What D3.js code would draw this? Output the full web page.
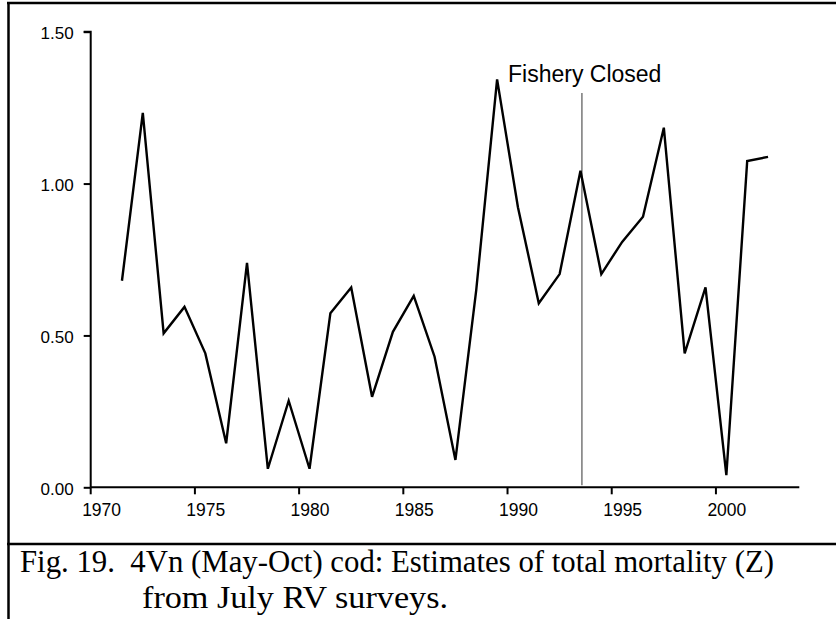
<!DOCTYPE html>
<html>
<head>
<meta charset="utf-8">
<script src="https://cdn.jsdelivr.net/npm/d3@7"></script>
<style>
  html, body { margin: 0; padding: 0; background: #fff; }
  svg { display: block; }
</style>
</head>
<body>
<svg id="chart" width="836" height="619"></svg>
<script>
// ---- data ----
const categories = d3.range(1970, 2004);            // category axis 1970..2003
const years  = [1971,1972,1973,1974,1975,1976,1977,1978,1979,1980,1981,1982,1983,1984,1985,1986,
                1987,1988,1989,1990,1991,1992,1993,1994,1995,1996,1997,1998,1999,2000,2001,2002];
const zValues = [0.680,1.233,0.507,0.594,0.441,0.145,0.739,0.061,0.285,0.061,0.573,0.658,0.298,0.512,0.630,0.430,
                 0.090,0.650,1.343,0.922,0.606,0.702,1.042,0.702,0.808,0.891,1.184,0.441,0.658,0.040,1.074,1.088];
const xTickLabels = [1970,1975,1980,1985,1990,1995,2000];
const yTicks = [0, 0.5, 1.0, 1.5];
const closureYear = 1993.57;
const closureLabel = "Fishery Closed";
const captionLines = ["Fig. 19.\u00a0\u00a04Vn (May-Oct) cod: Estimates of total mortality (Z)",
                      "from July RV surveys."];

// ---- layout ----
const svg = d3.select("#chart");
const pLeft = 90.7, pRight = 799.3, pTop = 31.7, pBottom = 487.3;

const x = d3.scaleBand().domain(categories).range([pLeft, pRight]).padding(0);
const xLin = d3.scaleLinear().domain([1970, 2004]).range([pLeft, pRight]);
const y = d3.scaleLinear().domain([0, 1.5]).range([pBottom, pTop]);

// frame
const frame = svg.append("g").attr("stroke", "#000").attr("stroke-width", 2.5).attr("fill", "none");
frame.append("line").attr("x1", 8.5).attr("x2", 8.5).attr("y1", 2).attr("y2", 619);
frame.append("line").attr("x1", 7).attr("x2", 836).attr("y1", 3).attr("y2", 3);
frame.append("line").attr("x1", 7).attr("x2", 836).attr("y1", 544).attr("y2", 544);

// closure line
svg.append("line")
  .attr("x1", xLin(closureYear)).attr("x2", xLin(closureYear))
  .attr("y1", 93).attr("y2", pBottom - 2)
  .attr("stroke", "#555").attr("stroke-width", 1.2);
svg.append("text")
  .attr("x", 508).attr("y", 81.5)
  .attr("font-family", "Liberation Sans, Arial, sans-serif")
  .attr("font-size", 23)
  .attr("fill", "#000")
  .text(closureLabel);

// y axis
const yAxis = d3.axisLeft(y).tickValues(yTicks).tickFormat(d3.format(".2f")).tickSize(7).tickPadding(10);
const gy = svg.append("g").attr("transform", `translate(${pLeft},0)`).call(yAxis);
gy.select(".domain").attr("stroke-width", 2).attr("d", `M-7,${pTop}H0V${pBottom}`);
gy.selectAll(".tick line").attr("stroke-width", 2);
gy.selectAll(".tick text")
  .attr("font-family", "Liberation Sans, Arial, sans-serif")
  .attr("font-size", 17).attr("fill", "#000").attr("dy", "0.42em");

// x axis: ticks at category boundaries, labels centred in category
const gx = svg.append("g").attr("transform", `translate(0,${pBottom})`);
gx.append("line").attr("x1", pLeft).attr("x2", pRight).attr("y1", 0).attr("y2", 0)
  .attr("stroke", "#000").attr("stroke-width", 2);
gx.selectAll("line.tick").data(xTickLabels).join("line").attr("class", "tick")
  .attr("x1", d => x(d)).attr("x2", d => x(d)).attr("y1", 0).attr("y2", 7)
  .attr("stroke", "#000").attr("stroke-width", 2);
gx.selectAll("text").data(xTickLabels).join("text")
  .attr("x", d => x(d) + x.bandwidth() / 2 + 0.5)
  .attr("y", 28.5)
  .attr("text-anchor", "middle")
  .attr("font-family", "Liberation Sans, Arial, sans-serif")
  .attr("font-size", 17.5).attr("fill", "#000")
  .text(d => d);

// series line
const pts = years.map((yr, i) => ({yr, v: zValues[i]}));
const line = d3.line().x(d => x(d.yr) + x.bandwidth() / 2).y(d => y(d.v));
svg.append("path").datum(pts)
  .attr("d", line)
  .attr("fill", "none").attr("stroke", "#000").attr("stroke-width", 2.4)
  .attr("stroke-linejoin", "miter");

// caption
const cap = svg.append("g")
  .attr("font-family", "Liberation Serif, Times New Roman, serif")
  .attr("font-size", 31.5).attr("fill", "#000");
cap.append("text").attr("x", 20).attr("y", 572)
  .attr("textLength", 754).attr("lengthAdjust", "spacingAndGlyphs")
  .text(captionLines[0]);
cap.append("text").attr("x", 142).attr("y", 608)
  .attr("textLength", 306).attr("lengthAdjust", "spacingAndGlyphs")
  .text(captionLines[1]);
</script>
</body>
</html>
